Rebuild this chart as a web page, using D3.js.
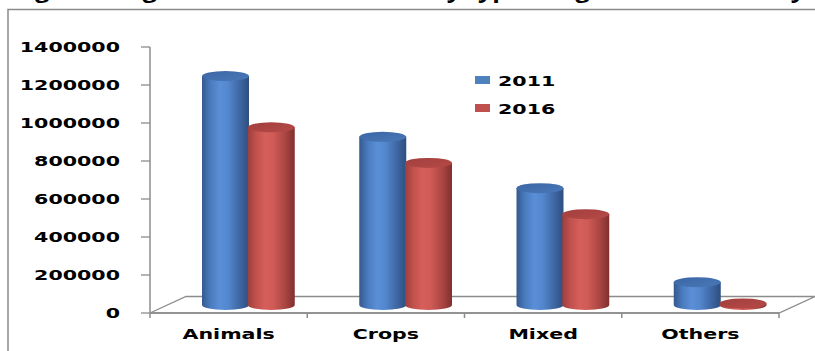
<!DOCTYPE html>
<html>
<head>
<meta charset="utf-8">
<script src="https://cdn.jsdelivr.net/npm/d3@7"></script>
<style>
  html, body { margin: 0; padding: 0; background: #fff; }
  svg { display: block; }
  text { font-family: "DejaVu Sans", Verdana, sans-serif; font-weight: bold; fill: #000; }
</style>
</head>
<body>
<svg id="chart" width="815" height="351"></svg>
<script>
// Agricultural households by type of activity, 2011 vs 2016
const categories = ["Animals", "Crops", "Mixed", "Others"];
const years = ["2011", "2016"];
const values2011 = [1205000, 885000, 615000, 120000];
const values2016 = [935000, 748000, 478000, 8000];
const yTickValues = [0, 200000, 400000, 600000, 800000, 1000000, 1200000, 1400000];
const titleText = "Figure 1: Agricultural Households by type of agricultural activity";

const svg = d3.select("#chart");
const W = 815, H = 351;

// horizontal stretch applied to all chart text
const STRETCH = 1.42;

// plot geometry
const plot = { left: 150, right: 779, top: 47, bottom: 313 };
const depth = { dx: 36, dy: -16.5 };      // floor depth offset
const mid = { dx: 18, dy: -8 };           // where the columns stand

const x = d3.scaleBand().domain(categories).range([plot.left, plot.right]).padding(0);
const y = d3.scaleLinear().domain([0, 1400000]).range([plot.bottom, plot.top]);
// series offsets inside a category, relative to the category centre
const xs = d3.scaleBand().domain(years).range([-26, 65.5]).padding(0);

const series = [
  { year: "2011", values: values2011, color: "#4f81bd",
    stops: ["#34598e", "#4a7bbf", "#5a8ed6", "#5388cf", "#3f67a3", "#2d4f80"],
    top: ["#3b66a4", "#4a78b8"] },
  { year: "2016", values: values2016, color: "#c0504d",
    stops: ["#9c3f3d", "#c2514e", "#d65f5b", "#cf5a56", "#a94542", "#7f302e"],
    top: ["#a13f3d", "#b64a47"] }
];

// gradients for the cylinder bodies and caps
const defs = svg.append("defs");
series.forEach(s => {
  const g = defs.append("linearGradient").attr("id", "body" + s.year)
    .attr("x1", "0%").attr("x2", "100%").attr("y1", "0%").attr("y2", "0%");
  const offs = [0, 0.18, 0.38, 0.55, 0.8, 1];
  s.stops.forEach((c, i) => g.append("stop").attr("offset", offs[i]).attr("stop-color", c));
  const t = defs.append("linearGradient").attr("id", "cap" + s.year)
    .attr("x1", "0%").attr("x2", "100%").attr("y1", "0%").attr("y2", "100%");
  t.append("stop").attr("offset", 0).attr("stop-color", s.top[0]);
  t.append("stop").attr("offset", 1).attr("stop-color", s.top[1]);
});

// outer frame
svg.append("rect")
  .attr("x", 8).attr("y", 9.5).attr("width", W + 20).attr("height", H + 20)
  .attr("fill", "none").attr("stroke", "#8a8a8a").attr("stroke-width", 1.5);

// title (runs off the top edge)
svg.append("text")
  .attr("x", 14).attr("y", -2.5)
  .attr("textLength", 791).attr("lengthAdjust", "spacingAndGlyphs")
  .style("font-family", "'Open Sans', sans-serif")
  .style("font-size", "21px")
  .text(titleText);

const axisColor = "#8c8c8c";

// floor
const floorPts = [
  [plot.left, plot.bottom],
  [plot.right, plot.bottom],
  [plot.right + depth.dx, plot.bottom + depth.dy],
  [plot.left + depth.dx, plot.bottom + depth.dy]
];
svg.append("path")
  .attr("d", d3.line()(floorPts) + "Z")
  .attr("fill", "#fff").attr("stroke", axisColor).attr("stroke-width", 1.3);

// value axis
const yAxis = svg.append("g");
yAxis.append("line")
  .attr("x1", plot.left).attr("x2", plot.left)
  .attr("y1", y(1400000)).attr("y2", y(0))
  .attr("stroke", axisColor).attr("stroke-width", 1.5);
yAxis.selectAll("line.tick").data(yTickValues).join("line")
  .attr("class", "tick")
  .attr("x1", plot.left - 9).attr("x2", plot.left)
  .attr("y1", d => y(d)).attr("y2", d => y(d))
  .attr("stroke", axisColor).attr("stroke-width", 1.3);
yAxis.selectAll("text").data(yTickValues).join("text")
  .attr("transform", d => `translate(120,${y(d) + 5}) scale(${STRETCH},1)`)
  .attr("text-anchor", "end")
  .style("font-size", "14.5px")
  .text(d => String(d));

// category axis
const xAxis = svg.append("g");
const xTickPos = categories.map(c => x(c)).concat([plot.right]);
xAxis.append("line")
  .attr("x1", plot.left).attr("x2", plot.right)
  .attr("y1", plot.bottom).attr("y2", plot.bottom)
  .attr("stroke", axisColor).attr("stroke-width", 1.5);
xAxis.selectAll("line.tick").data(xTickPos).join("line")
  .attr("class", "tick")
  .attr("x1", d => d).attr("x2", d => d)
  .attr("y1", plot.bottom).attr("y2", plot.bottom + 5)
  .attr("stroke", axisColor).attr("stroke-width", 1.5);
xAxis.selectAll("text").data(categories).join("text")
  .attr("transform", c => `translate(${x(c) + x.bandwidth() / 2},${plot.bottom + 26}) scale(${STRETCH},1)`)
  .attr("text-anchor", "middle")
  .style("font-size", "14.5px")
  .text(c => c);

// cylinders
const rx = 23.5, ry = 5;
const bars = [];
categories.forEach((c, i) => {
  series.forEach(s => {
    const cx = x(c) + x.bandwidth() / 2 + xs(s.year) + xs.bandwidth() / 2;
    bars.push({ cx, yTop: y(s.values[i]) + mid.dy, yBase: y(0) + mid.dy, s });
  });
});

const gBars = svg.append("g");
bars.forEach(b => {
  const x0 = b.cx - rx, x1 = b.cx + rx;
  const body = `M${x0},${b.yTop} L${x0},${b.yBase} A${rx},${ry} 0 0 0 ${x1},${b.yBase} L${x1},${b.yTop} Z`;
  gBars.append("path").attr("d", body).attr("fill", `url(#body${b.s.year})`);
  gBars.append("ellipse")
    .attr("cx", b.cx).attr("cy", b.yTop).attr("rx", rx).attr("ry", ry)
    .attr("fill", `url(#cap${b.s.year})`);
});

// legend
const legend = svg.append("g");
series.forEach((s, i) => {
  const ly = 80 + i * 28;
  legend.append("rect")
    .attr("x", 475).attr("y", ly - 4).attr("width", 15).attr("height", 8)
    .attr("fill", s.color);
  legend.append("text")
    .attr("transform", `translate(498,${ly + 6}) scale(${STRETCH},1)`)
    .style("font-size", "14.5px")
    .text(s.year);
});
</script>
</body>
</html>
